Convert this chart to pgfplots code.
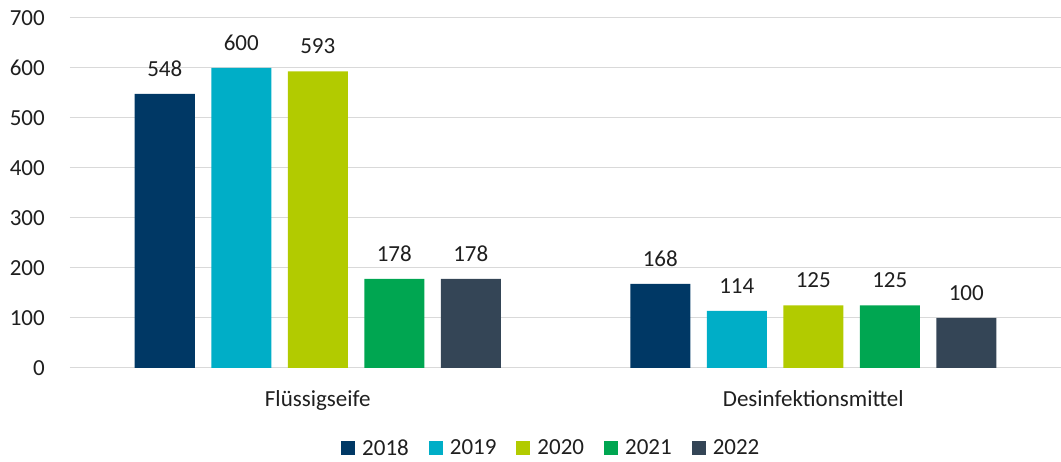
\documentclass[border=0pt]{standalone}
\usepackage{fontspec}
\setmainfont{Carlito}
\usepackage{pgfplots}
\pgfplotsset{compat=1.18}
\definecolor{cA}{HTML}{003865}
\definecolor{cB}{HTML}{00AEC7}
\definecolor{cC}{HTML}{B2CB00}
\definecolor{cD}{HTML}{00A651}
\definecolor{cE}{HTML}{344556}
\newcommand{\fs}{\fontsize{23}{27}\selectfont}
\pgfplotsset{
  sqbar/.style={fill=#1, draw=none,
    legend image code/.code={\fill[#1] (0pt,-6.5pt) rectangle (14pt,7.5pt);}},
}
\begin{document}
\begin{tikzpicture}
\begin{axis}[
    name=ax,
    scale only axis,
    width=991pt, height=350pt,
    ybar=16.5pt, bar width=60pt,
    xmin=-0.5, xmax=1.5, ymin=0, ymax=700,
    ytick={0,100,...,700},
    xtick={0,1},
    xticklabels={Flüssigseife, Desinfektionsmittel},
    axis line style={draw=none},
    major tick length=0pt,
    ymajorgrids=true,
    grid style={line width=1pt, color=black!15},
    /pgf/number format/assume math mode=true,
    tick label style={font=\fs, text=black!88},
    yticklabel style={anchor=east, inner sep=0pt, xshift=-25pt},
    xticklabel style={anchor=base, inner sep=0pt, yshift=-38.5pt},
    nodes near coords,
    nodes near coords style={font=\fs, text=black!88, anchor=south, inner sep=0pt, yshift=17.5pt},
    legend columns=-1,
    legend style={draw=none, fill=none, font=\fs, text=black!88,
      at={(0.2735,-0.229)}, anchor=west, inner sep=0pt,
      nodes={inner sep=0pt},
      /tikz/every odd column/.append style={column sep=7pt},
      /tikz/every even column/.append style={column sep=20pt}},
]
\addplot[sqbar=cA] coordinates {(0,548) (1,168)};
\addlegendentry{2018}
\addplot[sqbar=cB] coordinates {(0,600) (1,114)};
\addlegendentry{2019}
\addplot[sqbar=cC] coordinates {(0,593) (1,125)};
\addlegendentry{2020}
\addplot[sqbar=cD] coordinates {(0,178) (1,125)};
\addlegendentry{2021}
\addplot[sqbar=cE] coordinates {(0,178) (1,100)};
\addlegendentry{2022}
\end{axis}
\pgfresetboundingbox
\path ([xshift=-70pt,yshift=-94pt]ax.south west) rectangle ([yshift=18pt]ax.north east);
\end{tikzpicture}
\end{document}
